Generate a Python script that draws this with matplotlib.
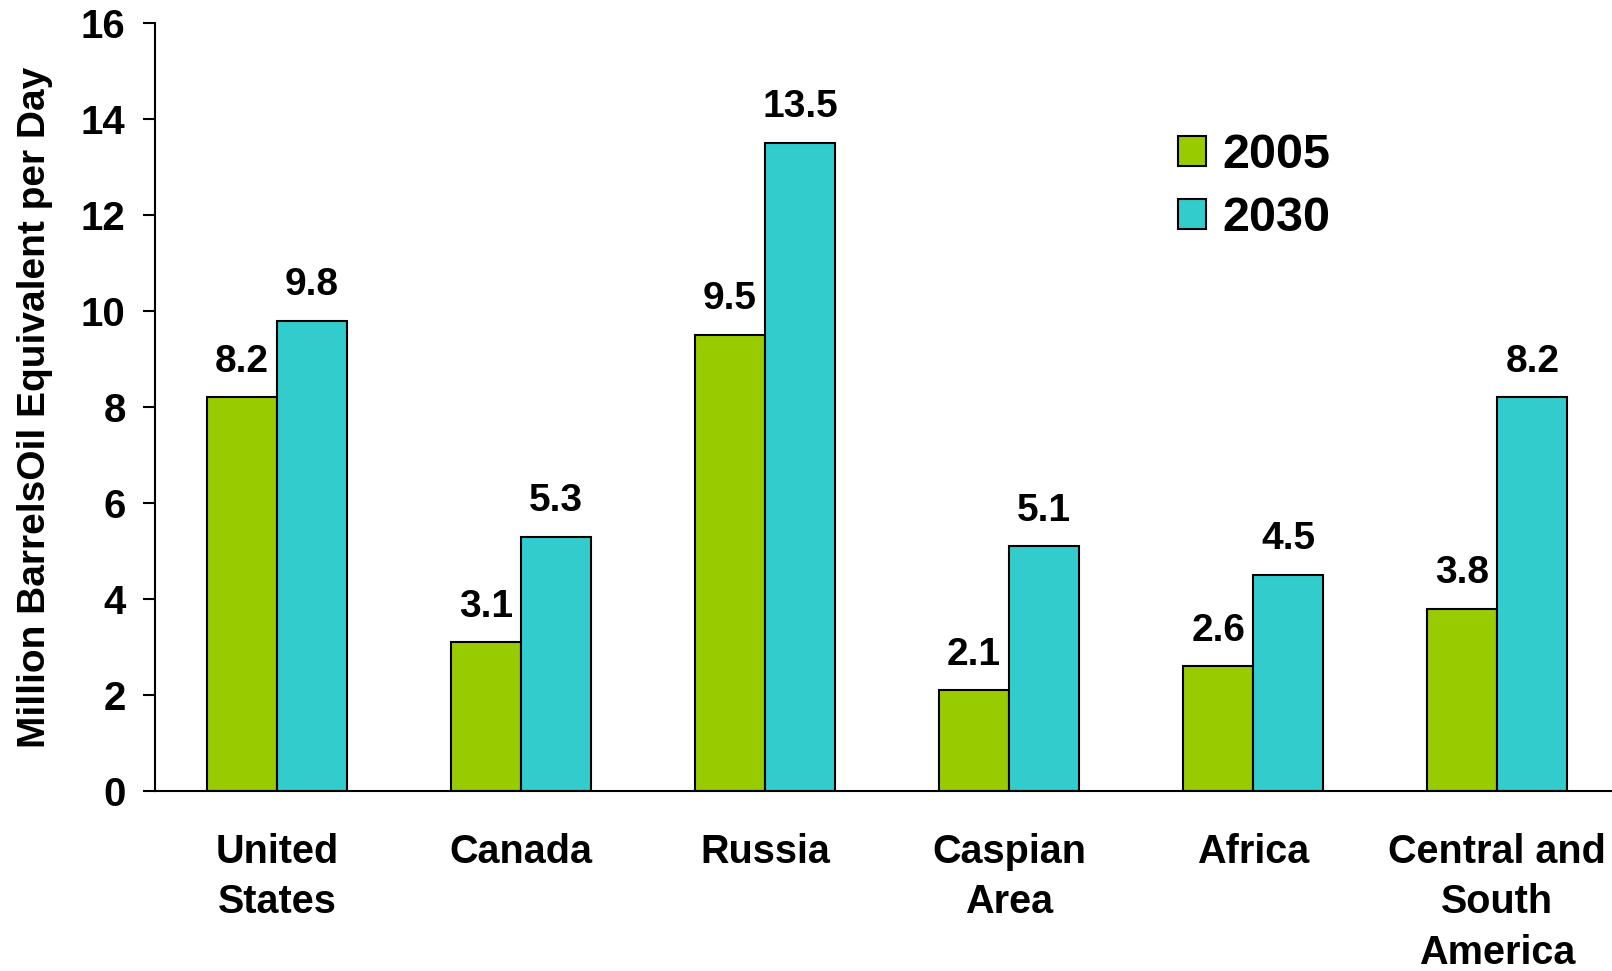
import matplotlib.pyplot as plt
import numpy as np
from matplotlib.patches import Patch

plt.rcParams['font.family'] = ['Liberation Sans', 'DejaVu Sans']
plt.rcParams['font.weight'] = 'bold'

regions = ['United\nStates', 'Canada', 'Russia', 'Caspian\nArea', 'Africa',
           'Central and\nSouth\nAmerica']
v2005 = [8.2, 3.1, 9.5, 2.1, 2.6, 3.8]
v2030 = [9.8, 5.3, 13.5, 5.1, 4.5, 8.2]
yticks = [0, 2, 4, 6, 8, 10, 12, 14, 16]

green = '#99CC00'
cyan = '#33CCCC'

W, H = 1612, 971
fig = plt.figure(figsize=(W / 100, H / 100), dpi=100)
ax = fig.add_axes([155 / W, 1 - 791 / H, 1 - 155 / W, (791 - 23) / H])

x = np.arange(len(regions))
w = 0.287
b1 = ax.bar(x - w / 2, v2005, w, color=green, edgecolor='black', linewidth=1.5)
b2 = ax.bar(x + w / 2, v2030, w, color=cyan, edgecolor='black', linewidth=1.5)

for bars, vals in ((b1, v2005), (b2, v2030)):
    for r, v in zip(bars, vals):
        ax.annotate(f'{v:.1f}', (r.get_x() + r.get_width() / 2, r.get_height()),
                    xytext=(0, 18.5), textcoords='offset points',
                    ha='center', va='baseline', fontsize=28, fontweight='bold')

ax.set_xlim(-0.5, 5.47)
ax.set_ylim(0, 16)
ax.set_yticks(yticks)
ax.set_xticks(x)
ax.set_xticklabels(regions, fontsize=28.5, fontweight='bold', linespacing=1.42,
                   va='top')
ax.tick_params(axis='x', length=0, pad=30)
ax.tick_params(axis='y', length=8.6, width=1.5, pad=12.5, labelsize=29)
for t in ax.get_yticklabels():
    t.set_fontweight('bold')

for s in ('top', 'right'):
    ax.spines[s].set_visible(False)
for s in ('left', 'bottom'):
    ax.spines[s].set_linewidth(1.5)

ax.set_ylabel('Million BarrelsOil Equivalent per Day', fontsize=28,
              fontweight='bold', labelpad=20)

handles = [Patch(facecolor=green, edgecolor='black', linewidth=1.5),
           Patch(facecolor=cyan, edgecolor='black', linewidth=1.5)]
ax.legend(handles, ['2005', '2030'], loc='upper left',
          bbox_to_anchor=(1178 / W, 1 - 133 / H), bbox_transform=fig.transFigure,
          frameon=False, handlelength=0.576, handleheight=0.576,
          handletextpad=0.33, labelspacing=0.38, borderpad=0, borderaxespad=0,
          prop={'weight': 'bold', 'size': 35})

fig.savefig('out.png', dpi=100)
